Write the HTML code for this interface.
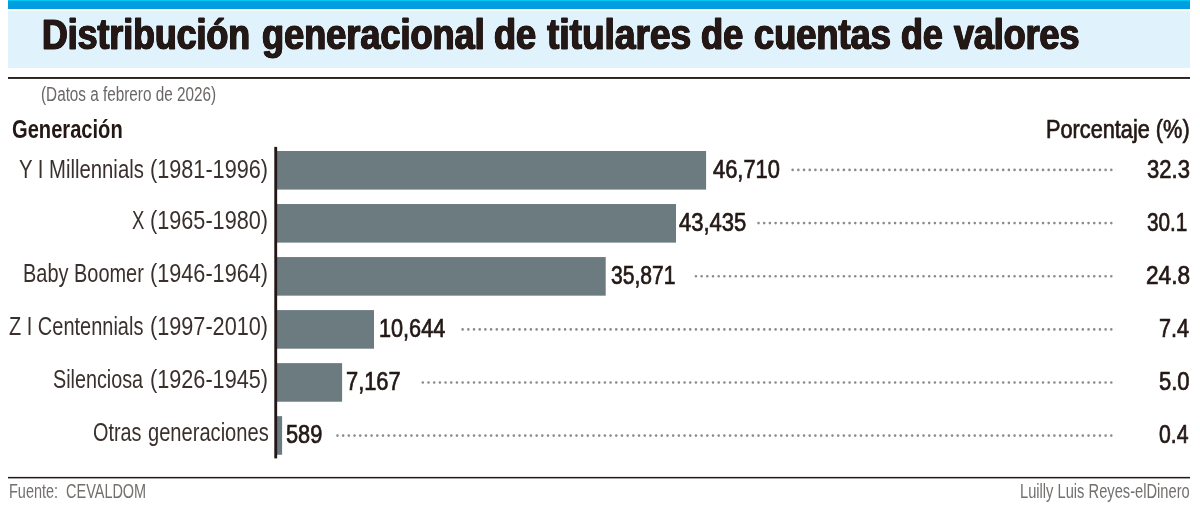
<!DOCTYPE html>
<html lang="es">
<head>
<meta charset="utf-8">
<title>Distribución generacional de titulares de cuentas de valores</title>
<style>
html,body{margin:0;padding:0;background:#fff;}
body{width:1200px;height:511px;position:relative;overflow:hidden;font-family:"Liberation Sans", Arial, Helvetica, sans-serif;color:#231815;}
.t{position:absolute;white-space:pre;line-height:1;transform-origin:0 0;margin:0;padding:0;font-weight:normal;}
h1,p,div{margin:0;padding:0;}
h1.title{font-size:43.4px;}
h1.title .t{font-weight:bold;-webkit-text-stroke:1.0px #231815;}
.sub{font-size:20px;color:#6b6765;}
.hd{font-size:25.8px;}
.lab{font-size:25.6px;color:#3a302d;}
.num,.pct{font-size:25.2px;}
.num{-webkit-text-stroke:0.7px #231815;}
.pct{-webkit-text-stroke:0.7px #231815;}
.foot{font-size:19.8px;color:#736f6d;}
.topbar{position:absolute;left:8px;top:0;width:1182px;height:9px;background:linear-gradient(#00c6f0 0,#00c6f0 1px,#009de0 1.6px,#009de0 100%);}
.band{position:absolute;left:8px;top:11px;width:1182px;height:57px;background:#e0f2fb;}
svg.gfx{position:absolute;left:0;top:0;width:1200px;height:511px;pointer-events:none;}
</style>
</head>
<body>
<div class="topbar"></div>
<div class="band"></div>
<h1 class="title"><span class="t" style="left:42.06px;top:13px;text-shadow:0.87px 0 0 #231815,-0.87px 0 0 #231815,0.43px 0 0 #231815,-0.43px 0 0 #231815;transform:scaleX(0.8217)">Distribución</span> <span class="t" style="left:261.77px;top:13px;text-shadow:0.81px 0 0 #231815,-0.81px 0 0 #231815,0.41px 0 0 #231815,-0.41px 0 0 #231815;transform:scaleX(0.8321)">generacional</span> <span class="t" style="left:494.27px;top:13px;text-shadow:0.82px 0 0 #231815,-0.82px 0 0 #231815,0.41px 0 0 #231815,-0.41px 0 0 #231815;transform:scaleX(0.8306)">de</span> <span class="t" style="left:547.01px;top:13px;text-shadow:0.69px 0 0 #231815,-0.69px 0 0 #231815,0.35px 0 0 #231815,-0.35px 0 0 #231815;transform:scaleX(0.8542)">titulares</span> <span class="t" style="left:701.17px;top:13px;text-shadow:0.80px 0 0 #231815,-0.80px 0 0 #231815,0.40px 0 0 #231815,-0.40px 0 0 #231815;transform:scaleX(0.8347)">de</span> <span class="t" style="left:753.97px;top:13px;text-shadow:0.80px 0 0 #231815,-0.80px 0 0 #231815,0.40px 0 0 #231815,-0.40px 0 0 #231815;transform:scaleX(0.8345)">cuentas</span> <span class="t" style="left:900.87px;top:13px;text-shadow:0.84px 0 0 #231815,-0.84px 0 0 #231815,0.42px 0 0 #231815,-0.42px 0 0 #231815;transform:scaleX(0.8265)">de</span> <span class="t" style="left:954.22px;top:13px;text-shadow:0.85px 0 0 #231815,-0.85px 0 0 #231815,0.43px 0 0 #231815,-0.43px 0 0 #231815;transform:scaleX(0.8250)">valores</span></h1>
<p class="sub"><span class="t" style="left:41.44px;top:84px;transform:scaleX(0.7642)">(Datos a febrero de 2026)</span></p>
<svg class="gfx" viewBox="0 0 1200 511">
<rect x="8" y="77.05" width="1182" height="1.85" fill="#231815"/>
<rect x="8" y="476.9" width="1182" height="1.5" fill="#231815"/>
<rect x="276" y="151.00" width="430.1" height="38.6" fill="#6c7b80"/>
<rect x="276" y="204.03" width="400.0" height="38.6" fill="#6c7b80"/>
<rect x="276" y="257.06" width="329.7" height="38.6" fill="#6c7b80"/>
<rect x="276" y="310.09" width="98.0" height="38.6" fill="#6c7b80"/>
<rect x="276" y="363.12" width="66.1" height="38.6" fill="#6c7b80"/>
<rect x="276" y="416.15" width="6.1" height="38.6" fill="#6c7b80"/>
<rect x="274.3" y="146.9" width="2.85" height="311.5" fill="#231815"/>
<line x1="1111.3" y1="169.9" x2="792.6" y2="169.9" stroke="#8a8a8f" stroke-width="2.6" stroke-linecap="round" stroke-dasharray="0 5.69"/>
<line x1="1111.3" y1="223.1" x2="758.4" y2="223.1" stroke="#8a8a8f" stroke-width="2.6" stroke-linecap="round" stroke-dasharray="0 5.69"/>
<line x1="1111.3" y1="276.2" x2="695.8" y2="276.2" stroke="#8a8a8f" stroke-width="2.6" stroke-linecap="round" stroke-dasharray="0 5.69"/>
<line x1="1111.3" y1="329.4" x2="462.5" y2="329.4" stroke="#8a8a8f" stroke-width="2.6" stroke-linecap="round" stroke-dasharray="0 5.69"/>
<line x1="1111.3" y1="382.5" x2="422.7" y2="382.5" stroke="#8a8a8f" stroke-width="2.6" stroke-linecap="round" stroke-dasharray="0 5.69"/>
<line x1="1111.3" y1="435.6" x2="337.4" y2="435.6" stroke="#8a8a8f" stroke-width="2.6" stroke-linecap="round" stroke-dasharray="0 5.69"/>
</svg>
<div class="hd"><span class="t" style="left:12.22px;top:117px;font-weight:bold;transform:scaleX(0.7799)">Generación</span> <span class="t" style="left:1045.83px;top:117px;-webkit-text-stroke:0.7px #231815;transform:scaleX(0.8418)">Porcentaje (%)</span></div>
<div class="row"><div class="lab"><span class="t" style="left:19.01px;top:157px;transform:scaleX(0.7929)">Y I Millennials</span> <span class="t" style="left:150.43px;top:157px;transform:scaleX(0.8462)">(1981-1996)</span></div> <div class="num"><span class="t" style="left:713.38px;top:157px;transform:scaleX(0.8682)">46,710</span></div> <div class="pct"><span class="t" style="left:1146.56px;top:157px;transform:scaleX(0.8754)">32.3</span></div></div>
<div class="row"><div class="lab"><span class="t" style="left:132.36px;top:208px;transform:scaleX(0.7238)">X</span> <span class="t" style="left:150.43px;top:208px;transform:scaleX(0.8462)">(1965-1980)</span></div> <div class="num"><span class="t" style="left:679.38px;top:210px;transform:scaleX(0.8737)">43,435</span></div> <div class="pct"><span class="t" style="left:1146.59px;top:210px;transform:scaleX(0.8209)">30.1</span></div></div>
<div class="row"><div class="lab"><span class="t" style="left:23.34px;top:261px;transform:scaleX(0.7791)">Baby Boomer</span> <span class="t" style="left:150.43px;top:261px;transform:scaleX(0.8462)">(1946-1964)</span></div> <div class="num"><span class="t" style="left:610.58px;top:263px;transform:scaleX(0.8383)">35,871</span></div> <div class="pct"><span class="t" style="left:1145.60px;top:263px;transform:scaleX(0.8995)">24.8</span></div></div>
<div class="row"><div class="lab"><span class="t" style="left:9.41px;top:314px;transform:scaleX(0.7806)">Z I Centennials</span> <span class="t" style="left:150.43px;top:314px;transform:scaleX(0.8462)">(1997-2010)</span></div> <div class="num"><span class="t" style="left:378.91px;top:316px;transform:scaleX(0.8598)">10,644</span></div> <div class="pct"><span class="t" style="left:1158.94px;top:316px;transform:scaleX(0.8563)">7.4</span></div></div>
<div class="row"><div class="lab"><span class="t" style="left:53.13px;top:367px;transform:scaleX(0.7723)">Silenciosa</span> <span class="t" style="left:150.43px;top:367px;transform:scaleX(0.8462)">(1926-1945)</span></div> <div class="num"><span class="t" style="left:346.43px;top:369px;transform:scaleX(0.8672)">7,167</span></div> <div class="pct"><span class="t" style="left:1158.66px;top:369px;transform:scaleX(0.8735)">5.0</span></div></div>
<div class="row"><div class="lab"><span class="t" style="left:93.28px;top:420px;transform:scaleX(0.7744)">Otras</span> <span class="t" style="left:148.11px;top:420px;transform:scaleX(0.7855)">generaciones</span></div> <div class="num"><span class="t" style="left:286.27px;top:422px;transform:scaleX(0.8638)">589</span></div> <div class="pct"><span class="t" style="left:1159.28px;top:422px;transform:scaleX(0.8409)">0.4</span></div></div>
<div class="foot"><span class="t" style="left:9.02px;top:482px;transform:scaleX(0.7311)">Fuente:  CEVALDOM</span> <span class="t" style="left:1020.00px;top:482px;transform:scaleX(0.7420)">Luilly Luis Reyes-elDinero</span></div>
</body>
</html>
